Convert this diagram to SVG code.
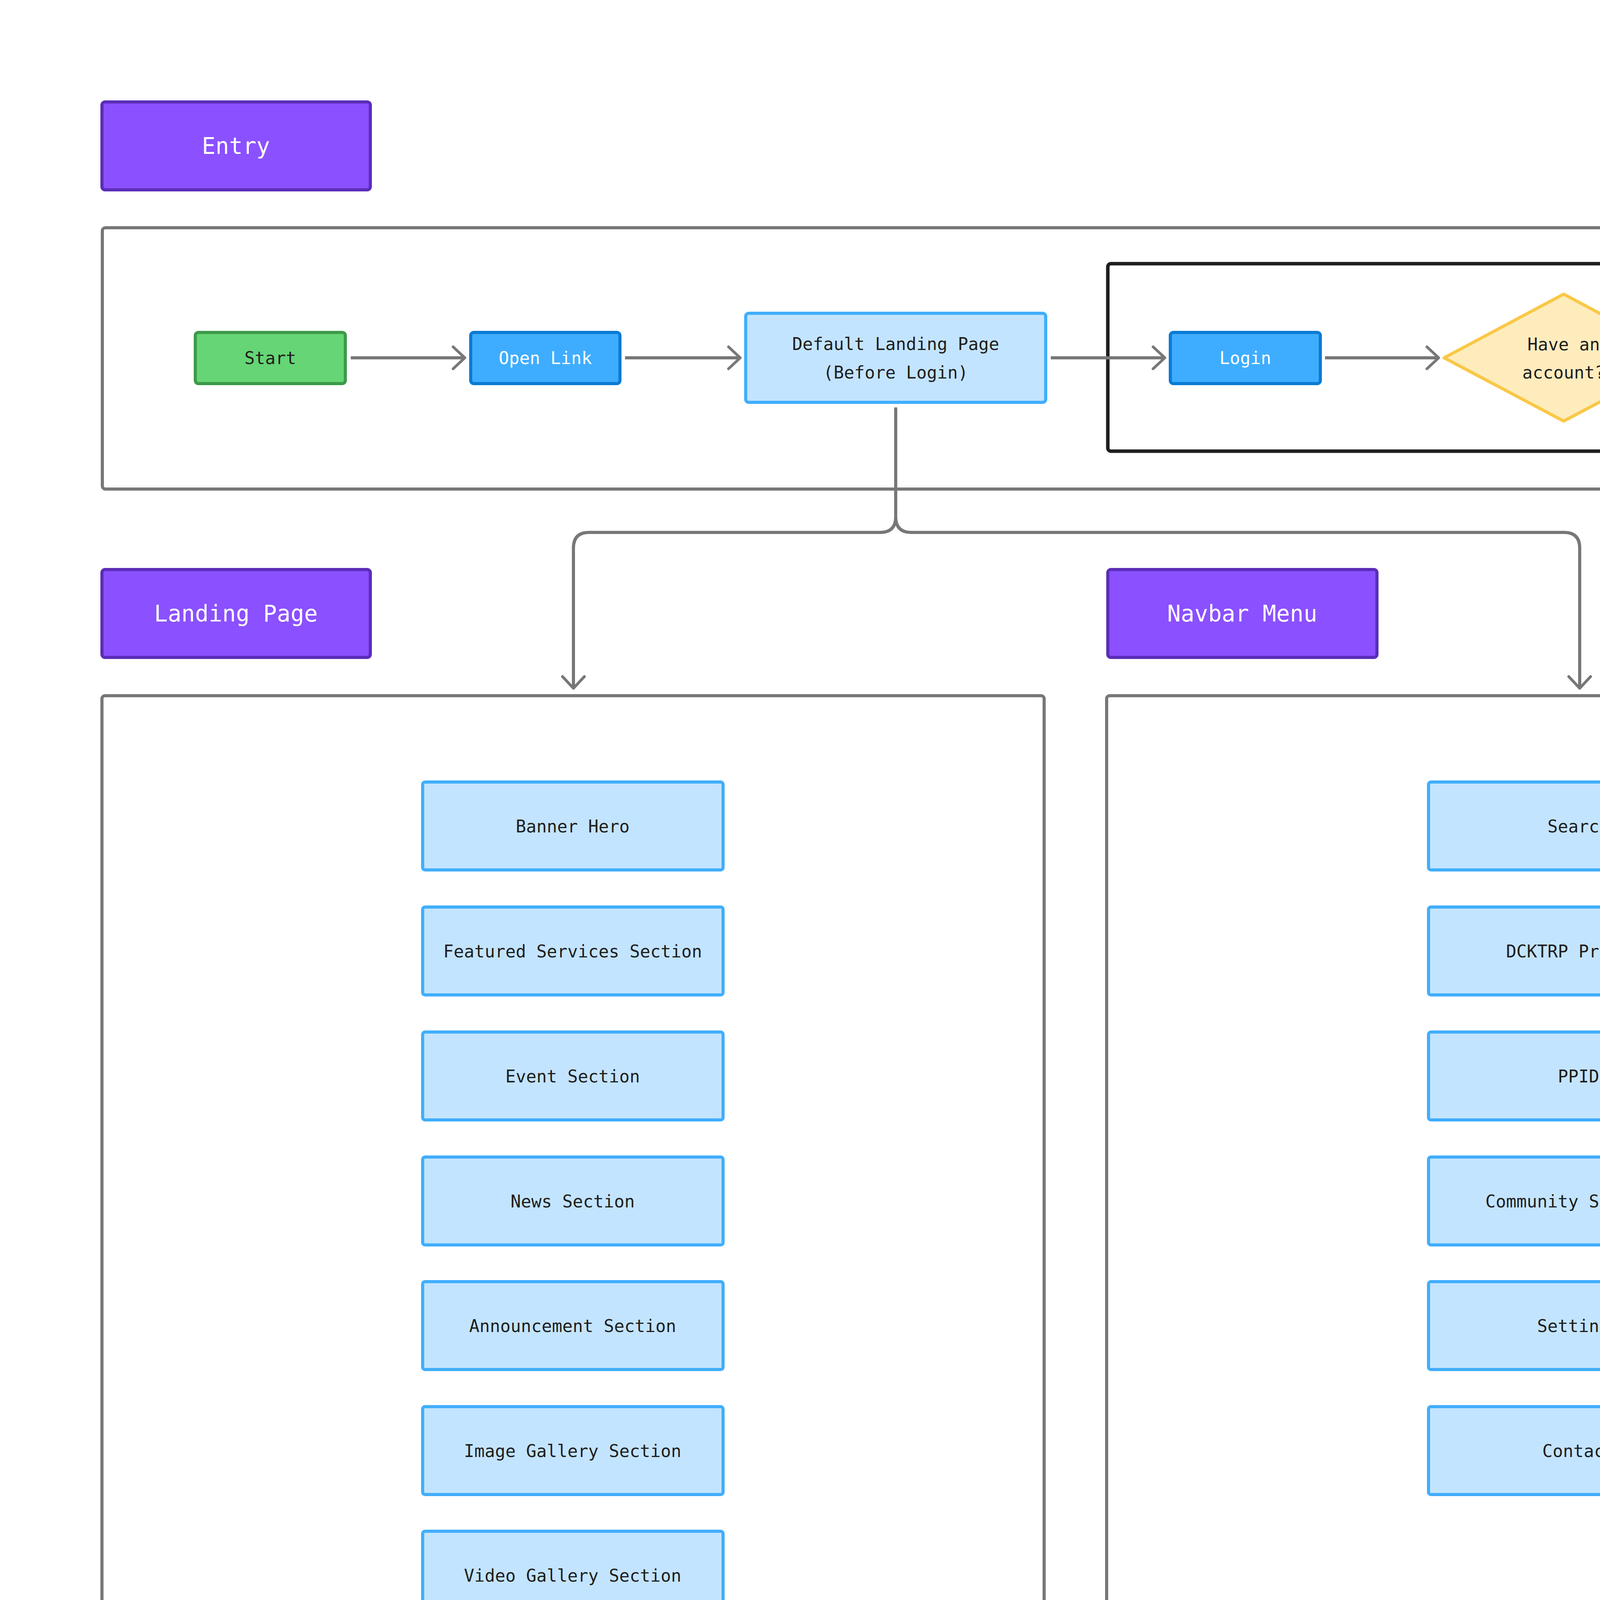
<svg xmlns="http://www.w3.org/2000/svg" width="5512" height="5128" viewBox="0 0 5512 5128">
<defs>
<marker id="ah" viewBox="0 0 20 20" refX="18" refY="10" markerWidth="20" markerHeight="20" markerUnits="userSpaceOnUse" orient="auto" overflow="visible">
<path d="M-12,-18 L18,10 L-12,38" transform="translate(0,0) scale(1)" fill="none" stroke="#777" stroke-width="7" stroke-linecap="round" stroke-linejoin="round"/>
</marker>
<style>
text{font-family:"DejaVu Sans Mono","Liberation Mono",monospace;font-size:44px;text-anchor:middle;dominant-baseline:central;fill:#1e1e1e}
.hdr rect{fill:#8b50ff;stroke:#5b2db8;stroke-width:8}
.hdr text{fill:#fff;font-size:58px}
.grn rect{fill:#66d575;stroke:#3d9a4a;stroke-width:8}
.blu rect{fill:#3fadff;stroke:#0a7bd4;stroke-width:8}
.blu text{fill:#fff}
.lb rect{fill:#c3e4ff;stroke:#41aefc;stroke-width:8}
.frame{fill:none;stroke:#777;stroke-width:8}
.conn path{fill:none;stroke:#777;stroke-width:8;marker-end:url(#ah)}
</style>
</defs>
<rect width="5512" height="5128" fill="#fff"/>
<g id="frames">
<rect class="frame" x="262" y="583" width="4989" height="669" rx="8"/>
<rect x="2836" y="675" width="2335" height="480" rx="8" fill="none" stroke="#1e1e1e" stroke-width="9"/>
<rect class="frame" x="261" y="1781" width="2412" height="2652" rx="8"/>
<rect class="frame" x="2833" y="1781" width="2418" height="2652" rx="8"/>
</g>
<g id="entry" class="hdr"><rect x="261" y="261" width="687" height="225" rx="8"/><text x="604" y="374">Entry</text></g>
<g id="landing" class="hdr"><rect x="261" y="1458" width="687" height="225" rx="8"/><text x="604" y="1571">Landing Page</text></g>
<g id="navbar" class="hdr"><rect x="2836" y="1458" width="689" height="225" rx="8"/><text x="3180" y="1571">Navbar Menu</text></g>
<g id="start" class="grn"><rect x="500" y="851" width="384" height="131" rx="8"/><text x="692" y="916">Start</text></g>
<g id="openlink" class="blu"><rect x="1205" y="851" width="382" height="131" rx="8"/><text x="1396" y="916">Open Link</text></g>
<g id="default" class="lb"><rect x="1909" y="802" width="768" height="228" rx="8"/><text x="2293" y="880">Default Landing Page</text><text x="2293" y="953">(Before Login)</text></g>
<g id="login" class="blu"><rect x="2996" y="851" width="384" height="131" rx="8"/><text x="3188" y="916">Login</text></g>
<g id="decision"><path d="M4003,753 L4309,916 L4003,1078 L3697,916 Z" fill="#feecbd" stroke="#fac846" stroke-width="8" stroke-linejoin="round"/><text x="4003" y="881">Have an</text><text x="4003" y="953">account?</text></g>
<g id="register" class="blu"><rect x="4627" y="851" width="385" height="131" rx="8"/><text x="4820" y="916">Register</text></g>
<g id="end" class="grn"><rect x="2562" y="4735" width="384" height="131" rx="8"/><text x="2754" y="4800">End</text></g>
<g id="left-items" class="lb">
<g id="n1"><rect x="1082" y="2002" width="769" height="225" rx="6"/><text x="1466" y="2115">Banner Hero</text></g>
<g id="n2"><rect x="1082" y="2322" width="769" height="225" rx="6"/><text x="1466" y="2435">Featured Services Section</text></g>
<g id="n3"><rect x="1082" y="2642" width="769" height="225" rx="6"/><text x="1466" y="2755">Event Section</text></g>
<g id="n4"><rect x="1082" y="2962" width="769" height="225" rx="6"/><text x="1466" y="3075">News Section</text></g>
<g id="n5"><rect x="1082" y="3281" width="769" height="225" rx="6"/><text x="1466" y="3394">Announcement Section</text></g>
<g id="n6"><rect x="1082" y="3601" width="769" height="225" rx="6"/><text x="1466" y="3714">Image Gallery Section</text></g>
<g id="n7"><rect x="1082" y="3920" width="769" height="225" rx="6"/><text x="1466" y="4033">Video Gallery Section</text></g>
</g>
<g id="right-items" class="lb">
<g id="m1"><rect x="3657" y="2002" width="769" height="225" rx="6"/><text x="4041" y="2115">Search</text></g>
<g id="m2"><rect x="3657" y="2322" width="769" height="225" rx="6"/><text x="4041" y="2435">DCKTRP Profile</text></g>
<g id="m3"><rect x="3657" y="2642" width="769" height="225" rx="6"/><text x="4041" y="2755">PPID</text></g>
<g id="m4"><rect x="3657" y="2962" width="769" height="225" rx="6"/><text x="4041" y="3075">Community Services</text></g>
<g id="m5"><rect x="3657" y="3281" width="769" height="225" rx="6"/><text x="4041" y="3394">Settings</text></g>
<g id="m6"><rect x="3657" y="3601" width="769" height="225" rx="6"/><text x="4041" y="3714">Contact</text></g>
</g>
<g id="connectors" class="conn">
<path d="M898,916 H1190"/>
<path d="M1600,916 H1895"/>
<path d="M2690,916 H2982"/>
<path d="M3392,916 H3683"/>
<path d="M4322,916 H4613"/>
<path d="M2293,1043 V1323 Q2293,1363 2253,1363 H1508 Q1468,1363 1468,1403 V1762"/>
<path d="M2293,1043 V1323 Q2293,1363 2333,1363 H4004 Q4044,1363 4044,1403 V1762"/>
<path d="M1468,4448 V4544 Q1468,4584 1508,4584 H2714 Q2754,4584 2754,4624 V4720"/>
<path d="M4044,4448 V4544 Q4044,4584 4004,4584 H2794 Q2754,4584 2754,4624 V4720"/>
<text x="4447" y="868" style="font-size:44px">No</text>
</g>
</svg>
